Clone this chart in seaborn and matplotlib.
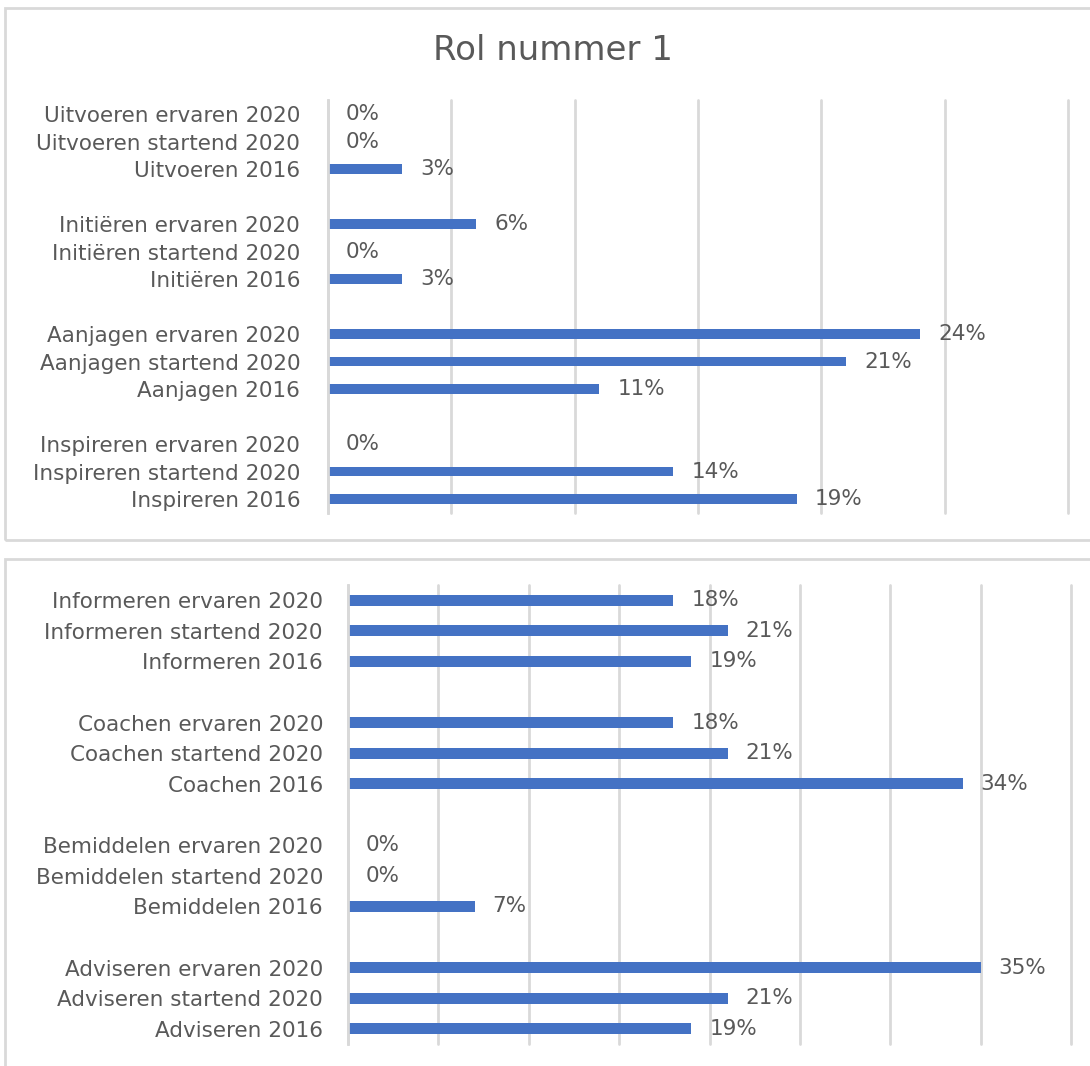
"""
Rol nummer 1 – horizontale staafdiagrammen (2016 vs startend/ervaren 2020).
"""
import matplotlib
matplotlib.use('Agg')
import matplotlib.pyplot as plt
from matplotlib.patches import Rectangle
import pandas as pd
import seaborn as sns

# Rollen per paneel (van boven naar beneden)
TOP_ROLES = ["Uitvoeren", "Initiëren", "Aanjagen", "Inspireren"]
BOTTOM_ROLES = ["Informeren", "Coachen", "Bemiddelen", "Adviseren"]
SERIES = ["ervaren 2020", "startend 2020", "2016"]

# Percentages per reeks, in volgorde van de rollen
TOP_ERVAREN = [0, 6, 24, 0]
TOP_STARTEND = [0, 0, 21, 14]
TOP_2016 = [3, 3, 11, 19]

BOTTOM_ERVAREN = [18, 18, 0, 35]
BOTTOM_STARTEND = [21, 21, 0, 21]
BOTTOM_2016 = [19, 34, 7, 19]

BAR_COLOR = '#4472C4'
GRID_COLOR = '#D9D9D9'
TEXT_COLOR = '#595959'

W, H = 1090, 1066


def build_frame(roles, ervaren, startend, jaar2016):
    """Lange tabel + volgorde met lege regels tussen de groepen."""
    rows = []
    order = []
    for i, role in enumerate(roles):
        for serie, vals in zip(SERIES, [ervaren, startend, jaar2016]):
            label = f"{role} {serie}"
            rows.append({'label': label, 'value': vals[i]})
            order.append(label)
        if i < len(roles) - 1:
            order.append(" " * (i + 1))  # spacer
    return pd.DataFrame(rows), order


def px_rect(left, top, right, bottom):
    """Pixelcoördinaten (vanaf linksboven) -> figuurfracties."""
    return [left / W, 1 - bottom / H, (right - left) / W, (bottom - top) / H]


def draw_panel(fig, rect, df, order, xmax, pad):
    ax = fig.add_axes(rect)
    sns.barplot(data=df, y='label', x='value', order=order, orient='h',
                color=BAR_COLOR, saturation=1, width=0.36, linewidth=0,
                errorbar=None, ax=ax)
    ax.set_xlim(0, xmax)
    ax.set_xticks(range(0, xmax + 1, 5))
    ax.set_xticklabels([])
    ax.grid(axis='x', color=GRID_COLOR, linewidth=2)
    for gl in ax.get_xgridlines():
        gl.set_clip_on(False)
    ax.set_axisbelow(True)
    ax.tick_params(length=0, labelsize=15.5, labelcolor=TEXT_COLOR)
    ax.tick_params(axis='y', pad=pad)
    for side in ['top', 'right', 'bottom']:
        ax.spines[side].set_visible(False)
    ax.spines['left'].set_color(GRID_COLOR)
    ax.spines['left'].set_linewidth(2)
    ax.set_xlabel('')
    ax.set_ylabel('')
    for cont in ax.containers:
        ax.bar_label(cont, fmt='{:.0f}%', padding=13, fontsize=15.5, color=TEXT_COLOR)
    return ax


def main():
    sns.set_style('white')
    plt.rcParams['font.family'] = ['DejaVu Sans']

    fig = plt.figure(figsize=(W / 100, H / 100), dpi=100)

    # kaders rond beide panelen
    for l, t, r, b in [(5, 8, 1100, 540), (5, 559, 1100, 1080)]:
        x0, y0, w, h = px_rect(l, t, r, b)
        fig.patches.append(Rectangle((x0, y0), w, h, transform=fig.transFigure,
                                     fill=False, edgecolor=GRID_COLOR, linewidth=2))

    fig.text(553 / W, 1 - 50 / H, 'Rol nummer 1', ha='center', va='center',
             fontsize=24.5, color=TEXT_COLOR)

    df_top, order_top = build_frame(TOP_ROLES, TOP_ERVAREN, TOP_STARTEND, TOP_2016)
    draw_panel(fig, px_rect(328, 100.25, 1068, 512.75), df_top, order_top, 30, pad=20)

    df_bot, order_bot = build_frame(BOTTOM_ROLES, BOTTOM_ERVAREN, BOTTOM_STARTEND, BOTTOM_2016)
    draw_panel(fig, px_rect(348, 584.7, 1071, 1044.3), df_bot, order_bot, 40, pad=18)

    fig.savefig('out.png', dpi=100)
    plt.close(fig)


if __name__ == '__main__':
    main()
